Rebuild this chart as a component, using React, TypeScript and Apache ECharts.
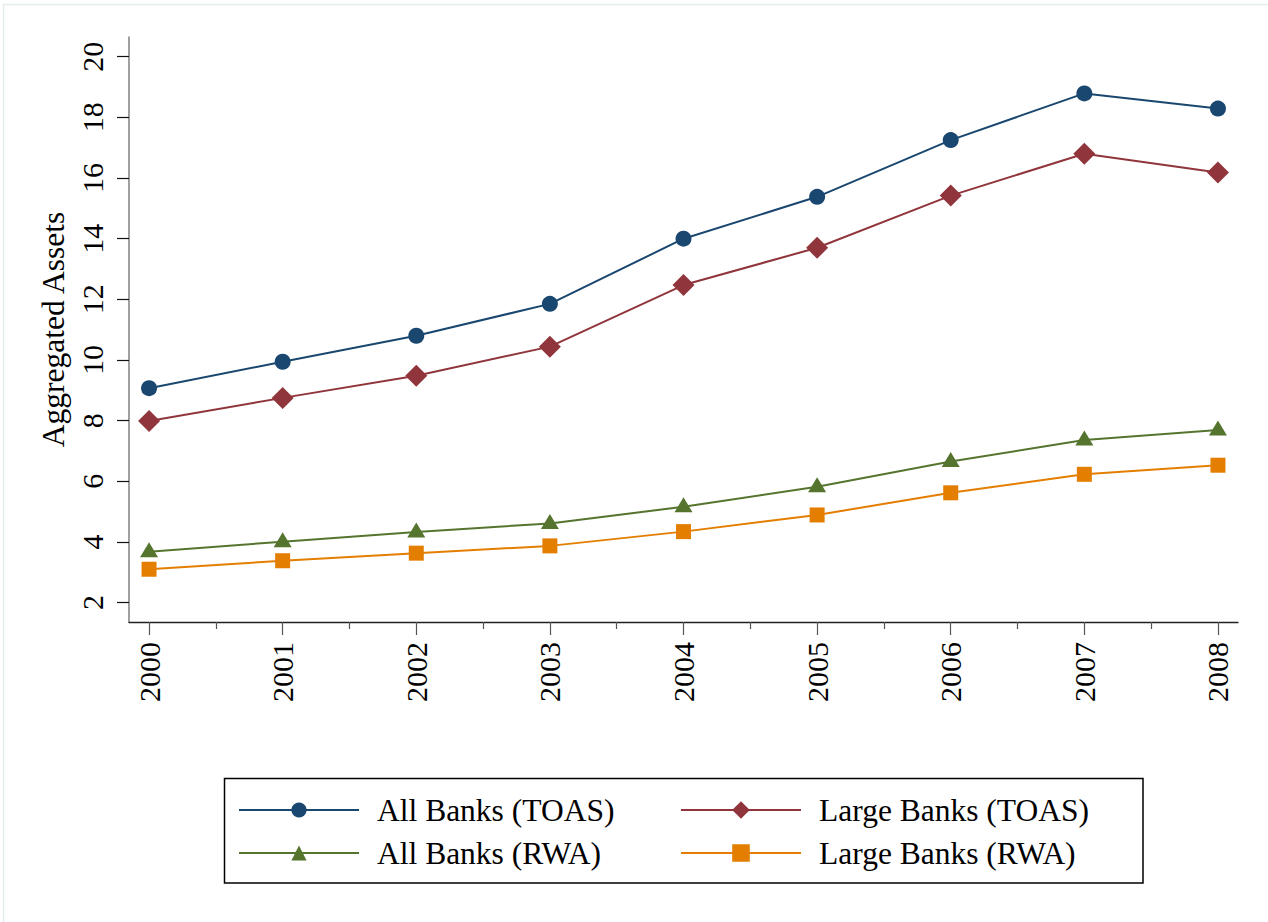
import React, { useEffect, useRef } from "react";
import * as echarts from "echarts";

const years = [2000, 2001, 2002, 2003, 2004, 2005, 2006, 2007, 2008];
const minorYears = [2000.5, 2001.5, 2002.5, 2003.5, 2004.5, 2005.5, 2006.5, 2007.5];
const yTicks = [2, 4, 6, 8, 10, 12, 14, 16, 18, 20];

const allToas = [9.07, 9.94, 10.8, 11.85, 14.0, 15.38, 17.25, 18.79, 18.29];
const largeToas = [7.99, 8.75, 9.48, 10.44, 12.47, 13.7, 15.42, 16.8, 16.18];
const allRwa = [3.68, 4.01, 4.33, 4.61, 5.16, 5.82, 6.65, 7.36, 7.69];
const largeRwa = [3.1, 3.38, 3.63, 3.87, 4.34, 4.89, 5.62, 6.23, 6.53];

const FONT = "Liberation Serif";

const pair = (vals: number[]) => years.map((y, i) => [y, vals[i]]);

export default function App() {
  const ref = useRef<HTMLDivElement>(null);
  useEffect(() => {
    if (!ref.current) return;
    const chart = echarts.init(ref.current, undefined, { renderer: "svg" });
    const gridPos = { left: 129, right: 30, top: 37, bottom: 300 };
    const xMin = 1999.85;
    const xMax = 2008.15;
    const yMin = 1.36;
    const yMax = 20.65;
    const legendText = {
      fontSize: 31.5,
      fontFamily: FONT,
      color: "#000",
      lineHeight: 36,
      padding: [0, 0, 0, 13],
    };
    const tickLabel = {
      fontSize: 30,
      fontFamily: FONT,
      color: "#000",
    };
    const option: any = {
      animation: false,
      backgroundColor: "#fff",
      textStyle: { fontFamily: FONT },
      grid: [
        { ...gridPos, containLabel: false },
        { ...gridPos, containLabel: false },
      ],
      xAxis: [
        {
          type: "value",
          gridIndex: 0,
          min: xMin,
          max: xMax,
          axisLine: { show: true, lineStyle: { color: "#222", width: 1.3 } },
          axisTick: { show: true, customValues: years, length: 13, lineStyle: { color: "#555", width: 1.2 } },
          axisLabel: {
            show: true,
            customValues: years,
            rotate: 90,
            margin: 20,
            ...tickLabel,
            formatter: (v: number) => String(Math.round(v)),
          },
          splitLine: { show: false },
        },
        {
          type: "value",
          gridIndex: 1,
          min: xMin,
          max: xMax,
          axisLine: { show: false },
          axisTick: { show: true, customValues: minorYears, length: 7, lineStyle: { color: "#555", width: 1.2 } },
          axisLabel: { show: false },
          splitLine: { show: false },
        },
      ],
      yAxis: [
        {
          type: "value",
          gridIndex: 0,
          min: yMin,
          max: yMax,
          name: "Aggregated Assets",
          nameLocation: "middle",
          nameGap: 60,
          nameTextStyle: { fontSize: 31.5, fontFamily: FONT, color: "#000" },
          axisLine: { show: true, lineStyle: { color: "#808080", width: 1.5 } },
          axisTick: { show: true, customValues: yTicks, length: 12, lineStyle: { color: "#111", width: 1.2 } },
          axisLabel: {
            show: true,
            customValues: yTicks,
            rotate: 90,
            margin: 22,
            ...tickLabel,
            formatter: (v: number) => String(Math.round(v)),
          },
          splitLine: { show: false },
        },
        {
          type: "value",
          gridIndex: 1,
          min: yMin,
          max: yMax,
          show: false,
        },
      ],
      legend: [
        {
          data: ["All Banks (TOAS)", "All Banks (RWA)"],
          orient: "vertical",
          left: 238,
          top: 792,
          itemWidth: 120,
          itemHeight: 19,
          itemGap: 7,
          padding: 0,
          textStyle: legendText,
          selectedMode: false,
        },
        {
          data: ["Large Banks (TOAS)", "Large Banks (RWA)"],
          orient: "vertical",
          left: 680,
          top: 792,
          itemWidth: 120,
          itemHeight: 22,
          itemGap: 7,
          padding: 0,
          textStyle: legendText,
          selectedMode: false,
        },
      ],
      graphic: [
        {
          type: "rect",
          shape: { x: 3.5, y: 4.5, width: 1400, height: 1000 },
          style: { fill: "none", stroke: "#e4ecee", lineWidth: 1.5 },
          silent: true,
          z: -10,
        },
        {
          type: "rect",
          shape: { x: 224.5, y: 778.5, width: 918.5, height: 104.5 },
          style: { fill: "none", stroke: "#000", lineWidth: 1.5 },
          silent: true,
        },
      ],
      series: [
        {
          name: "All Banks (TOAS)",
          type: "line",
          xAxisIndex: 0,
          yAxisIndex: 0,
          data: pair(allToas),
          symbol: "circle",
          symbolSize: 16,
          color: "#1a476f",
          lineStyle: { width: 2, color: "#1a476f" },
          itemStyle: { color: "#1a476f" },
        },
        {
          name: "Large Banks (TOAS)",
          type: "line",
          xAxisIndex: 0,
          yAxisIndex: 0,
          data: pair(largeToas),
          symbol: "diamond",
          symbolSize: 22,
          color: "#90353b",
          lineStyle: { width: 2, color: "#90353b" },
          itemStyle: { color: "#90353b" },
        },
        {
          name: "All Banks (RWA)",
          type: "line",
          xAxisIndex: 0,
          yAxisIndex: 0,
          data: pair(allRwa),
          symbol: "triangle",
          symbolSize: [18, 15],
          symbolOffset: [0, -2],
          color: "#55752f",
          lineStyle: { width: 2, color: "#55752f" },
          itemStyle: { color: "#55752f" },
        },
        {
          name: "Large Banks (RWA)",
          type: "line",
          xAxisIndex: 0,
          yAxisIndex: 0,
          data: pair(largeRwa),
          symbol: "rect",
          symbolSize: 15,
          color: "#e37e00",
          lineStyle: { width: 2, color: "#e37e00" },
          itemStyle: { color: "#e37e00" },
        },
      ],
    };
    chart.setOption(option);
    return () => chart.dispose();
  }, []);
  return (
    <div
      ref={ref}
      style={{ position: "fixed", left: 0, top: 0, width: 1268, height: 922, background: "#fff" }}
    />
  );
}
